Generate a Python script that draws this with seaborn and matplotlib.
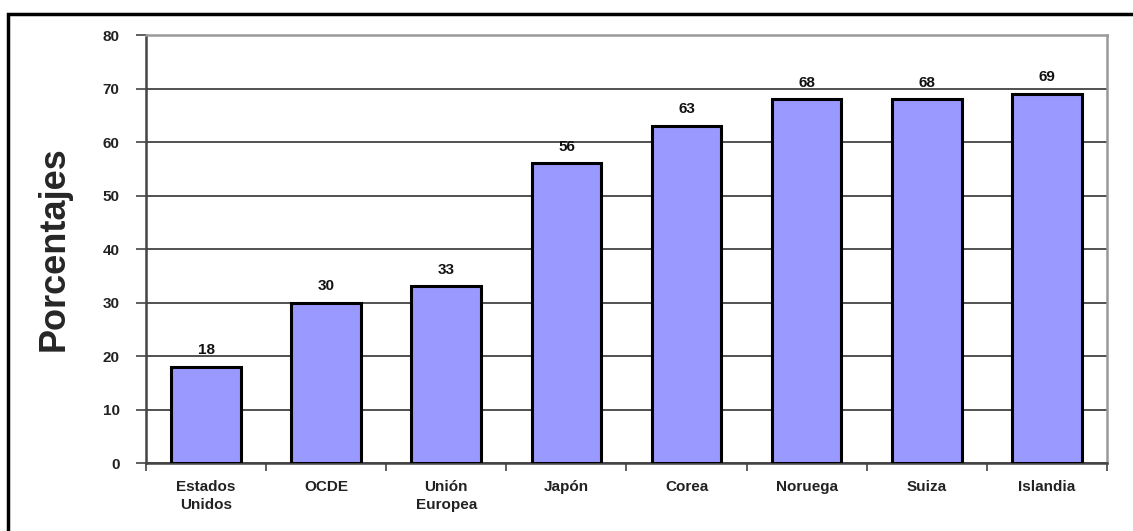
import pandas as pd
import seaborn as sns
import matplotlib.pyplot as plt
from matplotlib.patches import Rectangle

# data
categorias = ["Estados\nUnidos", "OCDE", "Unión\nEuropea", "Japón",
              "Corea", "Noruega", "Suiza", "Islandia"]
porcentajes = [18, 30, 33, 56, 63, 68, 68, 69]
y_ticks = [0, 10, 20, 30, 40, 50, 60, 70, 80]

df = pd.DataFrame({"pais": categorias, "valor": porcentajes})

sns.set_style("white")
plt.rcParams["font.family"] = ["Liberation Sans", "DejaVu Sans"]

fig = plt.figure(figsize=(11.33, 5.31), dpi=100)
ax = fig.add_axes([0.1289, 0.128, 0.977 - 0.1289, 0.934 - 0.128])

sns.barplot(data=df, x="pais", y="valor", color="#9999FF", saturation=1,
            width=0.58, edgecolor="black", linewidth=2.2, ax=ax, zorder=3)

# value labels above the bars
for i, v in enumerate(porcentajes):
    ax.annotate(str(v), (i, v), xytext=(0, 7), textcoords="offset points",
                ha="center", va="bottom", fontsize=11, fontweight="bold",
                color="#111111")

ax.set_ylim(0, 80)
ax.set_yticks(y_ticks)
ax.set_xlim(-0.5, len(categorias) - 0.5)
ax.yaxis.grid(True, color="#333333", linewidth=1.2, zorder=0)
ax.set_axisbelow(True)

# ticks on category boundaries for x
ax.set_xticks(range(len(categorias)))
ax.set_xticklabels(categorias, fontsize=11, fontweight="bold", color="#222222",
                   linespacing=1.4, va="top")
ax.tick_params(axis="x", length=0, pad=12)
ax.set_xticks([i - 0.5 for i in range(len(categorias) + 1)], minor=True)
ax.tick_params(axis="x", which="minor", length=6, width=1.2, color="#444444",
               direction="out", bottom=True)
ax.tick_params(axis="y", length=7, width=1.2, color="#444444",
               direction="out", left=True, labelsize=11, pad=12)
for lbl in ax.get_yticklabels():
    lbl.set_fontweight("bold")
    lbl.set_color("#222222")

ax.set_xlabel("")
ax.set_ylabel("Porcentajes", fontsize=26, fontweight="bold", labelpad=22)

for side in ["left", "bottom"]:
    ax.spines[side].set_color("#444444")
    ax.spines[side].set_linewidth(1.8)
for side in ["top", "right"]:
    ax.spines[side].set_visible(True)
    ax.spines[side].set_color("#999999")
    ax.spines[side].set_linewidth(1.8)

# outer frame (cut off on right and bottom in the reference)
fig.patches.append(Rectangle((8 / 1133, -0.05), 1.2, (531 - 14) / 531 + 0.05,
                             transform=fig.transFigure, fill=False,
                             edgecolor="black", linewidth=2.5))

fig.savefig("out.png", dpi=100)
